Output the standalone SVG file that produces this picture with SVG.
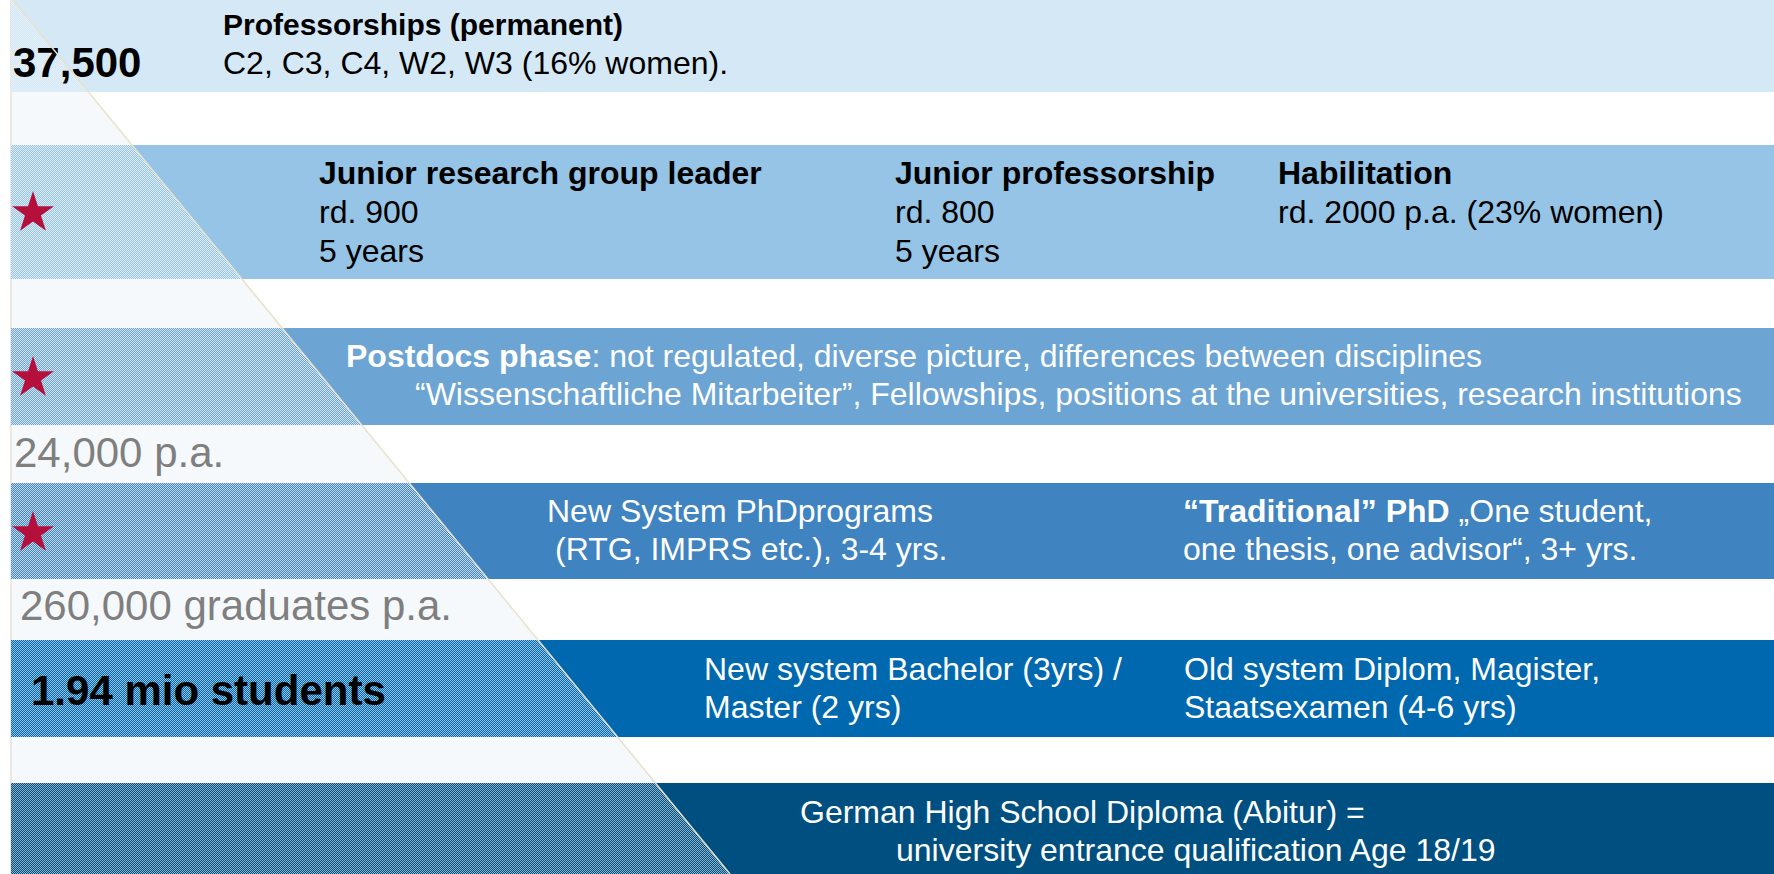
<svg xmlns="http://www.w3.org/2000/svg" width="1774" height="874" viewBox="0 0 1774 874">
<style>
.t{font-family:"Liberation Sans",Arial,sans-serif;font-size:32px;fill:#000}
.b{font-weight:bold}
.w{fill:#fff}
.big{font-size:42px}
.g{fill:#7f7f7f}
.star{fill:#b5103c}
.tex{fill:url(#dots)}
</style>
<defs>
<pattern id="dots" width="2" height="2" patternUnits="userSpaceOnUse">
<rect x="0" y="0" width="1" height="1" fill="#fff" fill-opacity="0.7"/>
<rect x="1" y="1" width="1" height="1" fill="#fff" fill-opacity="0.7"/>
</pattern>
<clipPath id="tri"><polygon points="11,0 13,0 730,874 11,874"/></clipPath>
<path id="starShape" d="M0,-22 L4.94,-6.8 L20.92,-6.8 L7.99,2.6 L12.93,17.8 L0,8.4 L-12.93,17.8 L-7.99,2.6 L-20.92,-6.8 L-4.94,-6.8 Z"/>
</defs>
<rect x="0" y="0" width="1774" height="874" fill="#fff"/>
<polygon points="11,0 13,0 730,874 11,874" fill="#f6f9fc"/>
<line x1="11" y1="0" x2="11" y2="874" stroke="#e4e2d8" stroke-width="1.5"/>

<g id="band-professors">
<rect x="11" y="0" width="1763" height="92" fill="#d5e8f6"/>
<rect x="11" y="0" width="720" height="92" class="tex" opacity="0.5" clip-path="url(#tri)"/>
<text class="t b big" x="13" y="77">37,500</text>
<text class="t b" x="223" y="35" style="font-size:30px">Professorships (permanent)</text>
<text class="t" x="223" y="74">C2, C3, C4, W2, W3 (16% women).</text>
</g>

<g id="band-junior">
<rect x="11" y="145" width="1763" height="134" fill="#95c4e6"/>
<rect x="11" y="145" width="720" height="134" class="tex" clip-path="url(#tri)"/>
<use href="#starShape" class="star" x="33" y="213"/>
<text class="t b" x="319" y="184">Junior research group leader</text>
<text class="t" x="319" y="223">rd. 900</text>
<text class="t" x="319" y="262">5 years</text>
<text class="t b" x="895" y="184">Junior professorship</text>
<text class="t" x="895" y="223">rd. 800</text>
<text class="t" x="895" y="262">5 years</text>
<text class="t b" x="1278" y="184">Habilitation</text>
<text class="t" x="1278" y="223">rd. 2000 p.a. (23% women)</text>
</g>

<g id="band-postdoc">
<rect x="11" y="328" width="1763" height="97" fill="#6ca4d3"/>
<rect x="11" y="328" width="720" height="97" class="tex" clip-path="url(#tri)"/>
<use href="#starShape" class="star" x="33" y="378"/>
<text class="t w" x="346" y="367"><tspan class="b">Postdocs phase</tspan>: not regulated, diverse picture, differences between disciplines</text>
<text class="t w" x="415" y="405">“Wissenschaftliche Mitarbeiter”, Fellowships, positions at the universities, research institutions</text>
</g>

<g id="label-24000">
<text class="t big g" x="14" y="467">24,000 p.a.</text>
</g>

<g id="band-phd">
<rect x="11" y="483" width="1763" height="96" fill="#3f83c1"/>
<rect x="11" y="483" width="720" height="96" class="tex" clip-path="url(#tri)"/>
<use href="#starShape" class="star" x="33" y="533"/>
<text class="t w" x="547" y="522">New System PhDprograms</text>
<text class="t w" x="555" y="560">(RTG, IMPRS etc.), 3-4 yrs.</text>
<text class="t w" x="1183" y="522"><tspan class="b">“Traditional” PhD</tspan> „One student,</text>
<text class="t w" x="1183" y="560">one thesis, one advisor“, 3+ yrs.</text>
</g>

<g id="label-260000">
<text class="t big g" x="20" y="620">260,000 graduates p.a.</text>
</g>

<g id="band-students">
<rect x="11" y="640" width="1763" height="97" fill="#0068af"/>
<rect x="11" y="640" width="720" height="97" class="tex" opacity="0.85" clip-path="url(#tri)"/>
<text class="t b big" x="31" y="705">1.94 mio students</text>
<text class="t w" x="704" y="680">New system Bachelor (3yrs) /</text>
<text class="t w" x="704" y="718">Master (2 yrs)</text>
<text class="t w" x="1184" y="680">Old system Diplom, Magister,</text>
<text class="t w" x="1184" y="718">Staatsexamen (4-6 yrs)</text>
</g>

<g id="band-abitur">
<rect x="11" y="783" width="1763" height="91" fill="#004f81"/>
<rect x="11" y="783" width="720" height="91" class="tex" opacity="0.8" clip-path="url(#tri)"/>
<text class="t w" x="800" y="823">German High School Diploma (Abitur) =</text>
<text class="t w" x="896" y="861">university entrance qualification Age 18/19</text>
</g>

<g id="connectors">
<line x1="13" y1="0" x2="730" y2="874" stroke="#e6e2cc" stroke-width="1.5"/>
</g>
</svg>
